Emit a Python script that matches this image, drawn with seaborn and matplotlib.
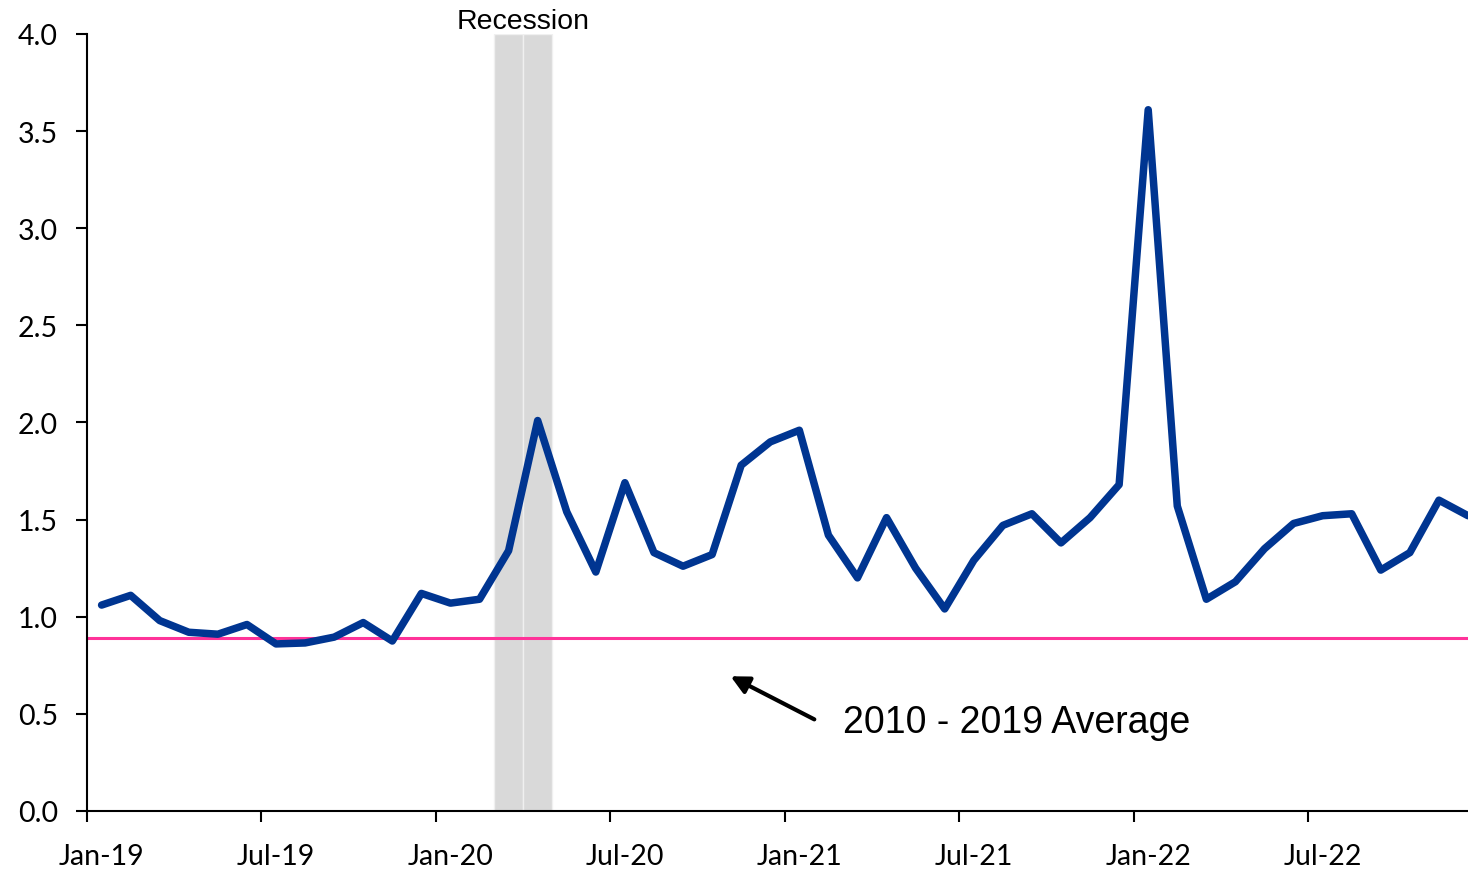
import numpy as np
import pandas as pd
import matplotlib
matplotlib.use("Agg")
import matplotlib.pyplot as plt
import seaborn as sns

# --- data ---
months = pd.date_range("2019-01-01", "2022-12-01", freq="MS")
values = [1.06, 1.11, 0.98, 0.92, 0.91, 0.96, 0.86, 0.865, 0.895, 0.97, 0.875, 1.12,
          1.07, 1.09, 1.34, 2.01, 1.54, 1.23, 1.69, 1.33, 1.26, 1.32, 1.78, 1.90,
          1.96, 1.42, 1.20, 1.51, 1.25, 1.04, 1.29, 1.47, 1.53, 1.38, 1.51, 1.68,
          3.61, 1.57, 1.09, 1.18, 1.35, 1.48, 1.52, 1.53, 1.24, 1.33, 1.60, 1.52]
avg_2010_2019 = 0.89
recession_months = ["2020-03", "2020-04"]
tick_labels = ["Jan-19", "Jul-19", "Jan-20", "Jul-20", "Jan-21", "Jul-21", "Jan-22", "Jul-22"]

df = pd.DataFrame({"month": months, "value": values})
df["pos"] = np.arange(len(df)) + 0.5  # month centres, ticks on month starts

sns.set_theme(style="white")
plt.rcParams["font.family"] = ["Lato", "DejaVu Sans"]
plt.rcParams["text.color"] = "black"

fig = plt.figure(figsize=(14.68, 8.70), dpi=100)
ax = fig.add_axes([0.0593, 0.0667, 0.9407, 0.8931])

# --- recession shading ---
rec = df[df["month"].dt.strftime("%Y-%m").isin(recession_months)]
ax.bar(rec["pos"], [4.0] * len(rec), width=1.0, color="#d9d9d9",
       edgecolor="#f0f0f0", linewidth=1, zorder=1)
ax.text(rec["pos"].mean(), 3.998, "Recession", ha="center", va="bottom",
        fontsize=20.5, color="black", family=["Liberation Sans", "DejaVu Sans"])

# --- series ---
sns.lineplot(data=df, x="pos", y="value", color="#003591", linewidth=5.4,
             solid_capstyle="round", ax=ax, zorder=3)
ax.axhline(avg_2010_2019, color="#ff3399", linewidth=2.2, zorder=2)

ax.annotate("", xy=(22.05, 0.70), xytext=(25.1, 0.465),
            arrowprops=dict(arrowstyle="-|>,head_length=0.9,head_width=0.45",
                            color="black", lw=3))
ax.text(26.0, 0.46, "2010 - 2019 Average", ha="left", va="center",
        fontsize=27, color="black", family=["Liberation Sans", "DejaVu Sans"])

# --- axes ---
ax.set_xlim(0, 47.5)
ax.set_ylim(0, 4.0)
ax.set_yticks(np.arange(0, 4.01, 0.5))
ax.set_yticklabels([f"{v:.1f}" for v in np.arange(0, 4.01, 0.5)])
major = np.arange(0, 48, 6)
ax.set_xticks(major)
ax.set_xticklabels([])
ax.set_xticks(major + 0.5, minor=True)
ax.set_xticklabels(tick_labels, minor=True)
ax.tick_params(axis="x", which="major", direction="out", length=8, width=1.5,
               color="black", bottom=True)
ax.tick_params(axis="x", which="minor", length=0, pad=23, labelsize=20.5,
               labelcolor="black", bottom=True)
ax.tick_params(axis="y", direction="out", length=8, width=1.5, color="black",
               labelsize=20.5, labelcolor="black", left=True, pad=13)
ax.set_xlabel("")
ax.set_ylabel("")
sns.despine(ax=ax)
for s in ["left", "bottom"]:
    ax.spines[s].set_color("black")
    ax.spines[s].set_linewidth(1.5)

fig.savefig("out.png", dpi=100)
